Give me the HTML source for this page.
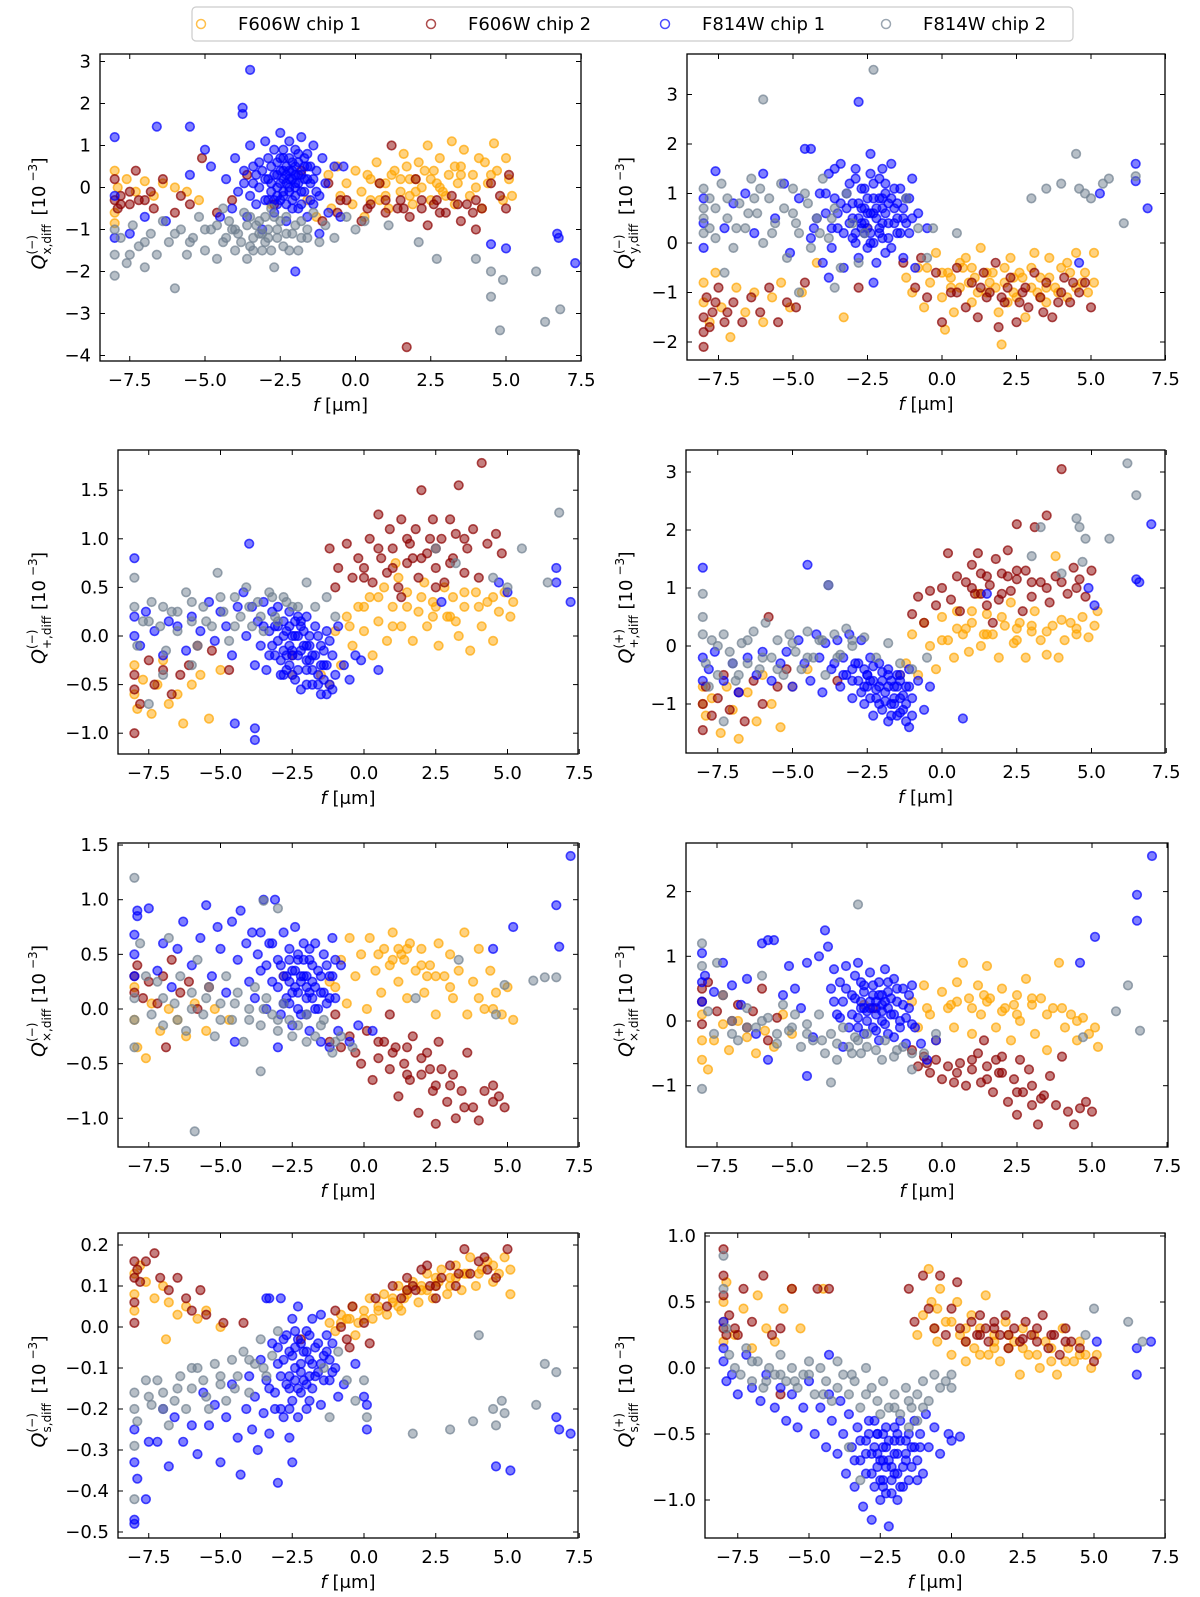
<!DOCTYPE html>
<html><head><meta charset="utf-8"><title>Q diff scatter panels</title>
<style>
html,body{margin:0;padding:0;background:#fff;}
svg{display:block;font-family:"DejaVu Sans","Liberation Sans",sans-serif;}
</style></head>
<body>
<svg id="fig" width="1200" height="1597" viewBox="0 0 1200 1597" xmlns="http://www.w3.org/2000/svg">
<g>
<rect x="192" y="7" width="881" height="34" rx="4" fill="#fff" stroke="#cccccc" stroke-width="1.2"/>
<g><circle cx="201" cy="24" r="4.5" fill="none" stroke="#FFA500" stroke-opacity="0.7" stroke-width="1.5"/><text x="238" y="30" font-size="18">F606W chip 1</text></g>
<g><circle cx="431" cy="24" r="4.5" fill="none" stroke="#8B0000" stroke-opacity="0.7" stroke-width="1.5"/><text x="468" y="30" font-size="18">F606W chip 2</text></g>
<g><circle cx="665" cy="24" r="4.5" fill="none" stroke="#0000FF" stroke-opacity="0.7" stroke-width="1.5"/><text x="702" y="30" font-size="18">F814W chip 1</text></g>
<g><circle cx="886" cy="24" r="4.5" fill="none" stroke="#708090" stroke-opacity="0.7" stroke-width="1.5"/><text x="923" y="30" font-size="18">F814W chip 2</text></g>
</g>
</svg>
<script>
// ---- data: flat [f, Q] pairs per panel per series ----
const seriesNames = ["F606W chip 1","F606W chip 2","F814W chip 1","F814W chip 2"];
const xTickValues = [-7.5,-5,-2.5,0,2.5,5,7.5];

const p1o=[-8,0.4,-8,-0.6,-8,-0.85,-7.9,0,-7.6,0.2,-7.3,-0.1,-7,0.15,-6.7,-0.2,-6.4,0.1,-6,0,-5.6,-0.1,-5.2,-0.3,-0.9,0.3,-0.8,-0.5,-0.6,0.5,-0.5,-0.2,-0.3,0.1,-0.1,-0.4,0,0.4,0.2,-0.1,0.3,-0.7,0.5,0.2,0.7,0.6,0.8,-0.3,1,0.1,1.1,-0.5,1.3,0.4,1.5,-0.1,1.6,0.8,1.8,0.2,1.9,-0.4,2.1,0.6,2.2,0,2.4,1,2.5,-0.3,2.6,0.4,2.8,0.7,2.9,-0.1,3.1,0.3,3.2,1.1,3.3,-0.4,3.5,0.5,3.6,0.9,3.8,-0.2,3.9,0.3,4.1,0.7,4.2,-0.5,4.4,0.1,4.6,1.05,4.7,0.4,4.9,-0.3,5,0.7,5.1,0.2,5.2,-0.2,1.2,0.3,2,0.2,2.7,0.1,3.4,0.1,0.4,0.3,1.7,0.5,-2.8,-0.4,-1.3,-0.7,-1.6,-0.3];
const p1oB=[0.5,-0.3,1,-0.2,1.5,0.2,2,-0.1,2.5,0.2,3,-0.2,3.5,0.3,4,0,4.5,0.3,2.3,0.4,2.8,0,1.8,-0.2,0.8,0.1,3.3,0.5,4.3,0.6];
const p1r=[-8,-0.3,-8,0.2,-7.9,-0.5,-7.8,-0.2,-7.5,-0.4,-7.3,0.4,-7,-0.3,-6.7,-0.5,-6.4,0.2,-6,-0.6,-5.8,-0.2,-5.5,-0.4,-5.1,0.7,-4.6,-0.6,-4.1,-0.3,-3.6,0.3,-1.8,0.4,-1.1,-0.8,-0.9,0.1,-0.6,-0.6,-0.3,-0.3,0.2,-0.8,0.5,-0.4,0.8,0.1,1,-0.6,1.2,1,1.5,-0.3,1.8,-0.7,2,0.2,2.2,-0.5,2.4,-0.9,2.7,-0.3,3,-0.6,3.2,-0.2,3.5,-0.8,3.7,-0.4,4,-1,4.2,-0.5,4.5,0.1,4.8,-0.2,5,-0.5,5.1,0.3,1.7,-3.8,1.4,-0.5,2.6,-0.4,3.9,-0.6,-2.7,-0.4];
const p1rB=[1,-0.3,1.6,-0.5,2.2,-0.3,2.8,-0.6,3.4,-0.4,4,-0.3,0.4,-0.5,-0.5,-0.3,-7.8,-0.4,-7.5,-0.1,-7.2,-0.3,-6.8,-0.1];
const p1b=[-4.3,0.2,-4.1,-0.5,-4,0.7,-3.9,-0.1,-3.7,0.4,-3.6,-0.7,-3.5,1,-3.4,0.1,-3.3,-0.4,-3.2,0.6,-3.1,-1,-3,0.2,-3,1.1,-2.9,-0.3,-2.8,0.5,-2.7,0.9,-2.7,-0.6,-2.6,0,-2.5,0.4,-2.5,1.3,-2.4,-0.2,-2.4,0.7,-2.3,0.1,-2.3,-0.8,-2.2,0.4,-2.2,1.1,-2.1,-0.3,-2.1,0.6,-2,0,-2,0.9,-1.9,-0.5,-1.9,0.3,-1.8,1.2,-1.8,-0.1,-1.7,0.5,-1.6,-0.7,-1.6,0.8,-1.5,0.1,-1.4,-0.4,-1.4,1,-1.3,0.4,-1.2,-0.2,-1.1,0.7,-1,0.1,-0.9,-0.6,-0.7,0.5,-2.6,0.3,-2.4,0.2,-2.2,-0.1,-2,0.3,-2.5,-0.3,-2.8,0.1,-1.9,0.6,-2.3,0.5,-2.1,0.2,-2.6,-0.4,-1.7,0.2,-3.4,0.5,-4.5,-0.7,-5,0.9,-5.5,1.45,-6.6,1.45,-8,1.2,-8,-0.2,-8,-1.2,-7.5,-1.1,-7,-0.7,-6.3,-0.8,-5.5,0.3,-4.8,0.5,-3.75,1.9,-3.75,1.75,-3.5,2.8,-2,-2,6.7,-1.1,6.75,-1.2,7.3,-1.8,5,-1.45,4.5,-1.35,-0.4,0.5,-1.2,-1.1,-0.5,-0.7];
const p1bB=[-3.2,0,-3.1,0.4,-3,-0.3,-2.9,0.7,-2.8,-0.1,-2.7,0.3,-2.6,0.6,-2.6,-0.2,-2.5,0.1,-2.4,0.9,-2.4,0.4,-2.3,-0.4,-2.3,0.3,-2.2,0.7,-2.2,0,-2.1,0.4,-2.1,-0.5,-2,0.5,-2,-0.2,-1.9,0.1,-1.9,0.8,-1.8,0.3,-1.8,-0.4,-1.7,0.7,-1.7,-0.1,-1.6,0.2,-1.5,0.5,-1.5,-0.3,-1.4,0.2,-1.3,-0.1,-2.7,-0.3,-2.9,0.2,-3.3,0.3,-3.5,-0.2,-3.7,0.1,-2.5,0.7,-2,0.1,-2.4,-0.1,-2.2,0.2,-1.6,0.5];
const p1g=[-8,-1,-8,-1.6,-8,-2.1,-7.8,-1.2,-7.6,-1.8,-7.4,-0.9,-7.2,-1.4,-7,-1.9,-6.8,-1.1,-6.6,-1.6,-6.4,-0.8,-6.2,-1.3,-6,-2.4,-5.8,-1,-5.6,-1.6,-5.4,-1.2,-5.2,-0.7,-5,-1.5,-4.8,-1,-4.6,-1.7,-4.4,-1.3,-4.2,-0.8,-4,-1.5,-3.9,-1.1,-3.7,-0.6,-3.6,-1.7,-3.4,-1.2,-3.3,-0.9,-3.1,-1.5,-3,-0.7,-2.9,-1.2,-2.7,-1.9,-2.6,-1,-2.4,-1.4,-2.3,-0.7,-2.1,-1.1,-1.9,-1.5,-1.8,-0.8,-1.6,-1.2,-1.4,-0.6,-1.2,-1.3,-1,-0.9,-0.7,-1.2,-0.3,-0.7,0,-1,0.3,-0.8,1.1,-0.9,2.1,-1.3,2.7,-1.7,4,-1.7,4.5,-2,4.5,-2.6,4.8,-3.4,4.9,-2.2,6,-2,6.3,-3.2,6.8,-2.9,-4.1,-1,-3.5,-1.4,-2.8,-0.5,-3.2,-1.1,-4.4,-0.5];
const p1gB=[-4,-1,-3.8,-1.3,-3.6,-0.9,-3.4,-1.5,-3.2,-0.8,-3,-1.3,-2.9,-1,-2.8,-1.5,-2.6,-1.2,-2.5,-0.8,-2.3,-1.1,-2.2,-1.5,-2,-0.9,-1.8,-1.2,-1.6,-1,-3.5,-0.7,-3.1,-1.1,-2.7,-0.7,-4.3,-1.2,-4.6,-0.9,-5,-1,-5.5,-1.3,-6,-1.1,-7,-1.3,-7.5,-1.6];

const p2o=[-8,-1.2,-8,-0.8,-7.8,-1.6,-7.6,-0.6,-7.4,-1.3,-7.1,-1.9,-6.9,-0.9,-6.6,-1.4,-6.3,-1,-6,-1.6,-5.7,-1.1,-5.4,-0.8,-5.1,-1.3,-4.7,-1,-4.2,-0.4,-3.3,-1.5,-1.2,-0.7,-1,-1,-0.8,-0.5,-0.6,-1.3,-0.4,-0.8,-0.2,-0.2,0,-1.1,0.1,-1.75,0.2,-0.6,0.4,-1.4,0.6,-0.9,0.8,-0.3,1,-1.2,1.1,-0.7,1.3,-0.1,1.5,-1,1.7,-0.6,1.9,-1.4,2,-2.05,2.1,-0.8,2.3,-0.3,2.5,-1.1,2.6,-0.6,2.8,-1.5,3,-0.9,3.1,-0.2,3.3,-0.7,3.5,-1.2,3.6,-0.3,3.8,-0.9,4,-0.5,4.2,-1.1,4.3,-0.6,4.5,-0.2,4.7,-0.8,4.9,-1,5.1,-0.8,5.1,-0.2,0.7,-0.5,1.6,-0.8,2.4,-0.7,3.2,-1,0.3,-0.7,-2.5,0.3];
const p2oB=[0,-0.6,0.3,-0.9,0.6,-0.4,0.9,-0.8,1.2,-1,1.5,-0.6,1.8,-0.9,2.1,-0.5,2.4,-1,2.7,-0.7,3,-0.5,3.3,-1.1,3.6,-0.7,3.9,-1,4.2,-0.4,4.5,-0.9,-0.5,-0.5,1,-0.5,2.2,-1.2,3.5,-0.9,4.8,-0.6];
const p2r=[-8,-1.5,-8,-1.8,-8,-2.1,-7.9,-1.1,-7.7,-1.4,-7.5,-0.9,-7.3,-1.6,-7,-1.2,-6.7,-1.6,-6.4,-1.1,-6.1,-1.4,-5.8,-0.9,-5.5,-1.6,-5.2,-1.2,-4.9,-1.3,-4.6,-0.8,-2.8,-0.9,-1.3,-0.4,-0.9,-0.9,-0.7,-0.3,-0.5,-1.1,-0.2,-0.6,0,-1.6,0.3,-1,0.5,-0.5,0.8,-1.3,1,-0.8,1.2,-1.5,1.4,-0.6,1.6,-1,1.8,-0.4,1.9,-1.7,2.1,-1.2,2.3,-0.7,2.5,-1.6,2.7,-1,2.9,-1.3,3.1,-0.6,3.3,-1.1,3.5,-0.8,3.7,-1.5,3.9,-1.2,4.1,-0.7,4.3,-1.2,4.6,-1,4.8,-0.8,5,-1.3,1.5,-1.1,2.2,-0.9,2.6,-1.2];
const p2rB=[0.5,-1,1.3,-0.9,2,-1.1,2.8,-0.9,3.4,-1.4,4,-1,4.4,-0.8,-7.8,-1.7,-7.6,-1.2,-7.2,-1.4];
const p2b=[-8,0.9,-8,0.4,-8,-0.1,-7.6,1.45,-7.3,0.3,-7,0.8,-6.6,1,-6.3,0.2,-6,1.4,-5.6,0.5,-5.3,1.2,-5.1,-0.2,-4.8,0.9,-4.6,1.9,-4.4,1.9,-4.3,0.3,-4.1,1,-4,-0.4,-3.9,0.6,-3.8,1.4,-3.7,-0.1,-3.6,0.9,-3.5,0.3,-3.4,1.6,-3.3,-0.5,-3.2,0.7,-3.1,1.2,-3,0.1,-3,0.5,-2.9,1.5,-2.8,-0.3,-2.8,0.8,-2.7,0.3,-2.6,1.1,-2.5,-0.1,-2.5,0.6,-2.4,1.8,-2.4,0.2,-2.3,0.9,-2.2,-0.4,-2.2,0.5,-2.1,1.3,-2,0.1,-2,0.7,-1.9,-0.2,-1.9,1,-1.8,0.4,-1.7,1.6,-1.7,-0.1,-1.6,0.7,-1.5,0.2,-1.4,1.1,-1.3,-0.3,-1.3,0.5,-1.2,0.9,-1.1,0.2,-1,1.3,-0.9,-0.5,-0.8,0.6,-0.5,0.3,-2.6,0.4,-2.3,0.6,-2.1,0.3,-2,0.9,-2.4,0,-1.8,0.8,-2.7,0.7,-2.9,0.2,-1.5,0.5,-3.6,1.5,-2.8,2.85,6.5,1.6,6.5,1.25,6.9,0.7,5.3,1,4.6,-0.4,-2.3,-0.8,-3.8,-0.7];
const p2bB=[-3.5,0.6,-3.3,0.2,-3.2,1,-3.1,0.4,-3,0.8,-2.9,0,-2.8,0.5,-2.7,1.1,-2.6,0.2,-2.5,0.9,-2.5,0.3,-2.4,0.6,-2.3,0,-2.3,1.2,-2.2,0.7,-2.1,0.2,-2.1,0.9,-2,0.4,-1.9,0.6,-1.9,1.2,-1.8,0.1,-1.7,0.9,-1.6,0.4,-1.5,0.8,-1.4,0.2,-1.3,0.7,-1.2,0.4,-1.1,0.9,-2.7,0.4,-2.4,1.4,-2.6,0.7,-3.7,0.3,-3.9,1,-4.2,0.5,-4.4,0.1,-2,1.5,-1.6,1.1,-1,0.5,-2.9,1.3,-3.4,0.8];
const p2g=[-8,1.1,-8,0.7,-8,0.2,-7.8,0.9,-7.6,0.1,-7.4,1.2,-7.2,0.5,-7,-0.1,-6.8,0.8,-6.6,0.3,-6.4,1.3,-6.2,0.6,-6,0,-5.8,0.9,-5.6,0.4,-5.4,1.2,-5.2,-0.3,-5,0.6,-4.8,0.2,-4.6,1,-4.4,-0.1,-4.2,0.5,-4,1.3,-3.8,0.1,-3.6,0.7,-3.4,-0.5,-3.2,1,-3,0.4,-2.8,-0.4,-2.6,0.2,-1.2,0.9,-0.8,0.3,-0.5,-0.3,0.5,0.2,-7.3,-0.6,-6,2.9,-2.3,3.5,3,0.9,3.5,1.1,4,1.2,4.5,1.8,4.6,1.1,4.8,1,5,0.9,5.4,1.2,5.6,1.3,6.1,0.4,6.5,1.35,-4.8,-1,-3.6,-0.9,-0.3,0.3];
const p2gB=[-8,0.5,-7.6,0.7,-7.2,0.9,-6.9,0.3,-6.5,0.6,-6.1,1.1,-5.7,0.2,-5.3,0.7,-4.9,0.4,-4.5,0.8,-4.1,0.2,-3.7,0.5,-7.8,0.3,-6.3,0.9,-5,1.1];

const p3o=[-8,-0.3,-8,-0.6,-7.9,-0.75,-7.7,-0.45,-7.4,-0.8,-7.2,-0.5,-7,-0.25,-6.8,-0.7,-6.5,-0.6,-6.3,-0.9,-6,-0.5,-5.7,-0.4,-5.4,-0.85,-5,-0.35,-1.2,-0.5,-1,0.05,-0.8,-0.3,-0.6,0.2,-0.4,-0.1,-0.2,0.3,0,0.05,0.2,0.4,0.3,-0.2,0.5,0.15,0.7,0.5,0.8,-0.05,1,0.3,1.2,0.6,1.3,0.1,1.5,0.45,1.7,-0.05,1.9,0.25,2.1,0.55,2.2,0.1,2.4,0.35,2.6,-0.1,2.8,0.5,2.9,0.2,3.1,0.4,3.3,0,3.5,0.3,3.7,-0.15,3.9,0.45,4.1,0.1,4.3,0.35,4.5,-0.05,4.7,0.25,4.9,0.45,5.1,0.2,5.2,0.35,1.1,0.75,2.4,0.2,3.2,0.15,-2.5,-0.4,-1.5,-0.4];
const p3oB=[0.5,0.4,1,0.1,1.5,0.3,2,0.4,2.5,0.3,3,0.2,3.5,0.45,4,0.3,4.5,0.4,0,0.3,-0.5,0.1];
const p3r=[-8,-0.4,-8,-0.55,-8,-1,-7.8,-0.7,-7.5,-0.25,-7.3,-0.5,-7,-0.35,-6.7,-0.6,-6.4,-0.4,-6.1,-0.3,-5.8,-0.1,-5.3,-0.15,-4.7,-0.35,-2.5,-0.2,-1.2,0.9,-1,0.5,-0.9,0.7,-0.6,0.95,-0.4,0.6,-0.2,0.8,0,0.7,0.2,1,0.3,0.55,0.5,1.25,0.6,0.8,0.8,0.65,0.9,1.1,1,0.9,1.2,0.5,1.3,1.2,1.5,0.75,1.6,0.95,1.8,1.1,1.9,0.6,2,1.5,2.2,0.85,2.4,1.2,2.5,0.7,2.7,1,2.8,0.55,3,1.2,3.1,0.8,3.2,1.05,3.3,1.55,3.5,0.65,3.6,0.9,3.8,1.1,4,0.6,4.1,1.78,4.3,0.95,4.6,1.05,4.8,0.85,1.3,0.4,2.5,0.5];
const p3rB=[0.5,0.9,1,0.7,1.5,1,2,0.8,2.5,0.9,3,0.75,3.5,1,1.7,0.8,2.3,1,0,0.6];
const p3b=[-8,0.8,-8,0.2,-8,0,-7.8,-0.1,-7.6,0.25,-7.3,0.05,-7,-0.2,-6.8,0.15,-6.5,0.1,-6.2,-0.15,-6,0.2,-5.7,0.05,-5.4,0.35,-5.2,-0.05,-5,0.25,-4.8,0.1,-4.6,-0.2,-4.4,0.3,-4.2,0.45,-4.1,0,-4,0.95,-3.9,0.3,-3.8,-0.3,-3.7,0.15,-3.6,-0.1,-3.5,0.35,-3.4,-0.35,-3.3,0.05,-3.2,0.25,-3.1,-0.2,-3,-0.05,-3,0.3,-2.9,-0.4,-2.8,0.15,-2.8,-0.15,-2.7,0.05,-2.6,-0.3,-2.6,0.25,-2.5,0,-2.4,-0.45,-2.4,0.15,-2.3,-0.2,-2.2,0.1,-2.2,-0.55,-2.1,-0.1,-2,0.2,-2,-0.35,-1.9,0,-1.8,-0.5,-1.8,-0.2,-1.7,0.1,-1.6,-0.4,-1.5,-0.6,-1.5,-0.1,-1.4,-0.3,-1.3,0.05,-1.2,-0.5,-1.1,-0.2,-1,-0.4,-0.9,0.1,-0.7,-0.3,-0.5,-0.45,-0.3,-0.2,-0.1,-0.25,0.5,-0.35,-2.5,-0.15,-2.3,0,-2,-0.1,-2.7,-0.2,-1.9,-0.25,-3.1,0.1,-4.5,-0.9,-3.8,-0.95,-3.8,-1.07,6.7,0.55,6.7,0.7,7.2,0.35,5,0.45,4.7,0.55,2.7,0.35];
const p3bB=[-3.2,-0.1,-3,0.1,-2.9,-0.25,-2.8,0,-2.7,-0.35,-2.6,0.1,-2.5,-0.2,-2.4,0,-2.3,-0.35,-2.3,0.2,-2.2,-0.15,-2.1,0.05,-2,-0.5,-2,-0.25,-1.9,-0.1,-1.8,-0.35,-1.7,-0.2,-1.6,-0.5,-1.6,0,-1.5,-0.3,-1.4,-0.15,-1.4,-0.45,-1.3,-0.3,-1.2,-0.05,-2.5,-0.4,-2.8,-0.4,-3.3,-0.2,-3.5,0.1,-1.1,-0.55,-1.3,-0.6,-2.2,0.15,-2.6,-0.1];
const p3g=[-8,0.6,-8,0.3,-7.9,-0.1,-7.7,0.15,-7.4,0.35,-7.1,0.1,-6.9,-0.15,-6.7,0.25,-6.5,0.05,-6.2,0.45,-6,0.15,-5.8,-0.1,-5.6,0.3,-5.3,0.1,-5.1,0.65,-4.9,0.25,-4.7,-0.05,-4.5,0.4,-4.3,0.2,-4.1,0.5,-3.9,0.1,-3.7,0.35,-3.5,0.05,-3.3,0.45,-3.1,0.2,-2.8,0.4,-2.5,0.3,-2,0.55,-1.7,0.3,-1.3,0.4,-1,0.2,-7.5,-0.7,-7,-0.4,-6,-0.3,3.2,0.75,4.5,0.6,5,0.5,5.5,0.9,6.4,0.55,6.8,1.27,2.5,0.9];
const p3gB=[-4.5,0.1,-4,0.3,-3.6,0.2,-3.2,0.4,-3,0.15,-2.7,0.35,-2.3,0.3,-5,0.4,-5.5,0.15,-6,0.35,-6.5,0.25,-7,0.3,-7.5,0.15];

const p4o=[-8,-0.7,-8,-1,-7.9,-1.2,-7.7,-0.9,-7.4,-1.5,-7.2,-0.7,-7,-1.1,-6.8,-1.6,-6.5,-0.8,-6.2,-1.3,-6,-0.5,-5.7,-1,-5.4,-1.4,-5,-0.7,-4.5,-0.4,-1.2,-0.3,-1,0.2,-0.8,-0.5,-0.6,0.4,-0.4,0,-0.2,-0.4,0,0.5,0.2,0.1,0.4,-0.2,0.5,0.6,0.7,0.2,0.9,-0.1,1,0.4,1.2,0.9,1.3,0,1.5,0.55,1.7,0.2,1.9,-0.2,2.1,0.35,2.3,0.75,2.4,0.05,2.6,0.4,2.8,-0.2,3,0.25,3.1,0.6,3.3,0.1,3.5,-0.15,3.7,0.35,3.8,1.55,3.9,-0.2,4.1,0.1,4.3,0.4,4.5,0.2,4.7,0.5,4.9,0.15,5.1,0.35,5.2,0.6,1.4,0.2,2.5,0.3,0.8,0.3,-1.4,-0.5];
const p4oB=[0.5,0.3,1,0.6,1.5,0.2,2,0.5,2.5,0.1,3,0.35,3.5,0.25,4,0.45,4.5,0.3,0,0.1];
const p4r=[-8,-1.45,-8,-1,-7.9,-0.7,-7.7,-1.2,-7.5,-0.9,-7.3,-0.5,-7.1,-1.1,-6.8,-0.8,-6.6,-1.3,-6.3,-0.6,-6,-1,-5.8,0.5,-5.5,-0.7,-5.2,-0.4,-3.5,-0.6,-1,0.55,-0.8,0.85,-0.6,0.4,-0.4,0.95,-0.2,0.7,0,1,0.2,1.6,0.3,0.8,0.5,1.2,0.6,0.6,0.8,1.1,1,1.4,1.1,0.9,1.3,1.25,1.5,0.7,1.6,1.05,1.8,1.5,1.9,0.8,2,1.25,2.2,1.65,2.3,0.95,2.5,1.15,2.7,0.6,2.8,1.3,3,0.85,3.1,2.05,3.3,1.1,3.5,2.25,3.6,0.75,3.8,1.2,4,3.05,4.2,0.9,4.4,1.35,4.6,1.15,4.8,0.85,5,1.3,1.2,1.6,2.5,2.1,1.7,0.4];
const p4rB=[1,1,1.5,1.2,2,0.9,2.5,1.3,3,1.1,3.5,1,4,1.1,4.5,1,2.2,1.2,1.3,0.9];
const p4b=[-8,1.35,-8,-0.2,-8,-0.6,-7.8,-0.4,-7.6,-0.1,-7.3,-0.6,-7,-0.3,-6.8,-0.8,-6.5,-0.2,-6.2,-0.5,-6,-0.1,-5.7,-0.6,-5.4,-0.3,-5.2,-0.1,-5,-0.7,-4.8,0.1,-4.6,-0.3,-4.5,1.4,-4.4,-0.6,-4.2,0.2,-4.1,-0.2,-4,-0.8,-3.9,0.05,-3.8,1.05,-3.7,-0.4,-3.5,0.1,-3.4,-0.7,-3.3,-0.2,-3.2,-0.5,-3.1,0.2,-3,-0.9,-2.9,-0.3,-2.8,-0.6,-2.7,0.1,-2.6,-1,-2.6,-0.4,-2.5,-0.7,-2.4,-0.2,-2.3,-1.2,-2.3,-0.6,-2.2,-0.9,-2.1,-0.3,-2,-1.1,-2,-0.6,-1.9,-0.8,-1.8,-1.3,-1.8,-0.4,-1.7,-1,-1.6,-0.7,-1.5,-1.2,-1.5,-0.5,-1.4,-0.9,-1.3,-1.1,-1.2,-0.7,-1.1,-1.4,-1.1,-0.4,-1,-0.9,-0.8,-0.6,-0.6,-1.1,-0.4,-0.7,-2.5,-0.5,-2.1,-0.7,-1.7,-0.6,-3,-0.4,-1.4,-0.6,0.7,-1.25,6.5,1.15,6.6,1.1,7,2.1,5.1,0.7,4.9,1,1.5,0.9];
const p4bB=[-3,-0.6,-2.8,-0.3,-2.7,-0.8,-2.5,-0.5,-2.4,-0.9,-2.3,-0.35,-2.2,-0.75,-2.1,-1,-2,-0.45,-1.9,-0.95,-1.8,-0.7,-1.7,-1.2,-1.6,-0.9,-1.5,-0.7,-1.4,-1.15,-1.3,-0.85,-1.2,-1.3,-1.2,-1,-1.1,-0.7,-1,-1.2,-1.6,-1,-2.6,-0.7,-3.3,-0.5,-3.6,-0.3,-1.8,-0.5,-2.4,-0.6,-1.4,-0.5];
const p4g=[-8,0.9,-8,0.5,-8,0.2,-7.9,-0.3,-7.7,0.1,-7.5,-0.5,-7.3,0.2,-7.1,-0.1,-6.9,-0.6,-6.7,0.05,-6.5,-0.3,-6.3,0.25,-6.1,-0.4,-5.9,0.4,-5.7,-0.2,-5.5,0.1,-5.3,-0.5,-5.1,0.2,-4.9,-0.1,-4.7,-0.4,-4.5,0.25,-4.3,-0.2,-4.1,0.1,-3.9,-0.5,-3.6,0.2,-3.4,-0.15,-3.2,0.3,-3,0,-2.6,0.15,-2.2,-0.2,-1.8,0.05,-1.4,-0.3,-1,-0.4,-0.5,-0.2,-7.3,-1.3,-3.8,1.05,3,1.55,3.3,2.05,4.5,2.2,4.6,2.05,4.8,1.85,4.7,1.45,4,1.25,5.6,1.85,6.2,3.15,6.5,2.6];
const p4gB=[-7.5,0,-7,-0.3,-6.5,0.1,-6,-0.2,-5.5,-0.4,-5,0.05,-4.5,-0.2,-4,0.1,-3.5,-0.2,-3,0.1,-6.8,-0.5,-7.8,-0.7];

const p5o=[-8,0.2,-8,-0.1,-7.9,-0.35,-7.6,-0.45,-7.4,0.05,-7.1,-0.2,-6.8,0,-6.5,-0.1,-6.2,-0.25,-5.9,0.05,-5.5,-0.2,-5.2,0,-4.7,-0.1,-1,0.2,-0.8,0.45,-0.6,0.05,-0.5,0.65,-0.3,0.3,-0.1,0.5,0.1,0,0.2,0.65,0.4,0.35,0.6,0.15,0.7,0.55,0.9,0.4,1,0.7,1.2,0.25,1.3,0.5,1.5,0.1,1.6,0.6,1.8,0.35,2,0.55,2.1,0.15,2.3,0.4,2.5,-0.05,2.6,0.6,2.8,0.3,3,0.5,3.1,0.1,3.3,0.35,3.5,0.7,3.6,-0.05,3.8,0.25,4,0.55,4.2,0,4.4,0.35,4.6,0.15,4.8,-0.05,5,0.2,5.2,-0.1,1.4,0.45,2.2,0.3,-1.2,0.25,-2.8,0.3];
const p5oB=[0.5,0.5,1,0.45,1.5,0.55,2,0.4,2.5,0.3,3,0.2,4,0.1,4.5,0,1.2,0.55];
const p5r=[-8,0.3,-8,0.15,-7.9,0.4,-7.7,0.1,-7.5,0.25,-7.2,0.05,-7,0.3,-6.7,0.45,-6.4,0.15,-6.1,0.25,-5.8,0,-5.4,0.2,-6.9,-0.35,-1.2,-0.3,-1,-0.05,-0.8,-0.35,-0.5,-0.25,-0.3,-0.4,-0.1,-0.5,0.1,-0.2,0.3,-0.65,0.5,-0.45,0.7,-0.3,0.9,-0.55,1.1,-0.35,1.2,-0.8,1.4,-0.5,1.6,-0.65,1.7,-0.25,1.9,-0.95,2,-0.6,2.2,-0.4,2.4,-0.75,2.5,-1.05,2.7,-0.55,2.9,-0.85,3.1,-0.6,3.2,-1,3.4,-0.75,3.6,-0.4,3.8,-0.9,4,-1.02,4.2,-0.75,4.5,-0.85,4.7,-0.8,4.9,-0.9,1.5,-0.35,2.6,-0.3,0.9,-0.05];
const p5rB=[1,-0.4,1.5,-0.6,2,-0.45,2.5,-0.7,3,-0.7,3.5,-0.9,4.5,-0.7,2.3,-0.55,0.5,-0.3];
const p5b=[-8,0.68,-8,0.5,-8,0.3,-7.9,0.85,-7.9,0.9,-7.5,0.92,-7.2,0.35,-7,0.6,-6.7,0.2,-6.5,0.55,-6.3,0.8,-6,0.4,-5.7,0.65,-5.5,0.95,-5.3,0.3,-5.1,0.75,-5,0.55,-4.8,0.15,-4.6,0.8,-4.4,0.45,-4.3,0.9,-4.1,0.6,-4,0.25,-3.9,0.7,-3.8,0.1,-3.7,0.5,-3.6,0.35,-3.5,1,-3.4,0,-3.3,0.6,-3.2,0.25,-3.1,1,-3,0.45,-2.9,-0.05,-2.8,0.7,-2.8,0.3,-2.7,0.1,-2.6,0.55,-2.5,-0.15,-2.5,0.35,-2.4,0.75,-2.3,0.15,-2.3,0.45,-2.2,-0.05,-2.1,0.3,-2.1,0.6,-2,0.1,-1.9,0.45,-1.9,-0.2,-1.8,0.25,-1.7,0.6,-1.7,0,-1.6,0.35,-1.5,-0.3,-1.5,0.15,-1.4,0.5,-1.3,0.05,-1.2,0.3,-1.2,-0.35,-1.1,0.65,-1,0.1,-0.9,-0.2,-0.8,0.4,-0.5,-0.3,-0.2,-0.15,0.3,-0.2,-2.4,0.2,-2.2,0.3,-2,0.2,-2.6,0.25,-1.8,0.1,-3,-0.35,-4.5,-0.3,4.5,0.55,5.2,0.75,6.7,0.95,6.8,0.57,7.2,1.4];
const p5bB=[-3,0.2,-2.9,0.4,-2.8,0.05,-2.7,0.3,-2.6,0.45,-2.5,0.15,-2.4,0.35,-2.3,0,-2.2,0.25,-2.1,0.45,-2,-0.05,-2,0.3,-1.9,0.15,-1.8,0.4,-1.7,0.2,-1.6,0,-1.5,0.3,-1.4,0.15,-1.3,0.4,-1.2,0.1,-1.1,0.3,-2.6,0.05,-2.3,0.5,-1.9,0.55,-3.2,0.6,-3.4,0.4,-3.6,0.7,-1,0.45];
const p5g=[-8,1.2,-8,0.1,-8,-0.1,-7.8,0.6,-7.6,0.3,-7.4,-0.05,-7.2,0.25,-7,-0.15,-6.8,0.65,-6.6,0.05,-6.4,0.3,-6.2,-0.2,-6,0.15,-5.8,0.45,-5.6,-0.05,-5.4,0.2,-5.2,-0.25,-5,0.05,-4.8,0.3,-4.6,-0.1,-4.4,0.15,-4.2,-0.3,-4,0,-3.8,0.2,-3.6,-0.15,-3.4,0.1,-3.2,-0.05,-3,-0.2,-2.8,0.05,-2.6,-0.1,-2.3,-0.15,-2,-0.05,-1.7,-0.25,-1.4,-0.1,-1.1,-0.4,-0.8,-0.25,-0.4,-0.35,-3.5,0.99,-3,0.92,-5.9,-1.12,-3.6,-0.57,-8,-0.35,5.9,0.26,6.3,0.29,6.7,0.29,4.9,0.22,4.6,-0.05,3.3,0.45,1.8,0.1];
const p5gB=[-4,-0.1,-3.5,0,-3,-0.1,-2.5,-0.25,-2,-0.3,-1.5,-0.15,-1,-0.3,-4.5,0.05,-5,-0.1,-5.5,0.1,-6,0,-6.5,-0.1,-7,0.1];

const p6o=[-8,-0.3,-8,-0.6,-8,0.1,-7.8,-0.75,-7.6,-0.3,-7.3,-0.05,-7.1,-0.45,-6.8,0,-6.5,-0.25,-6.2,-0.5,-5.9,-0.15,-5.6,-0.4,-5.3,0.1,-5,-0.2,-1,0.3,-0.8,-0.1,-0.6,0.55,-0.4,0.1,-0.2,-0.3,0,0.45,0.2,0.2,0.4,-0.1,0.5,0.6,0.7,0.9,0.9,0.35,1,-0.2,1.2,0.55,1.3,0.1,1.5,0.85,1.6,0.35,1.8,-0.1,2,0.5,2.1,0.2,2.3,-0.3,2.5,0.4,2.6,0,2.8,0.65,3,0.25,3.1,-0.2,3.3,0.35,3.5,-0.45,3.7,0.2,3.9,0.9,4.1,-0.1,4.3,0.1,4.5,-0.3,4.7,0.05,4.9,-0.2,5.1,-0.1,5.2,-0.4,0.3,0.25,1.4,0.4,2.4,0.25,-2.6,0.25];
const p6oB=[0.5,0.3,1,0.2,1.5,0.3,2,0.15,2.5,0.1,3,0.35,3.5,0.1,4,0.2,4.5,0,-0.5,0.2];
const p6r=[-8,0.5,-8,0.3,-8,-0.05,-7.8,0.6,-7.5,0.15,-7.3,0.4,-7,0,-6.8,0.25,-6.5,-0.1,-6.3,0.15,-6,0.5,-5.8,-0.3,-5.5,0.05,-1,-0.45,-0.8,-0.7,-0.6,-0.55,-0.4,-0.8,-0.2,-0.6,0,-0.9,0.2,-0.7,0.4,-0.95,0.6,-0.65,0.8,-1,1,-0.75,1.2,-0.5,1.3,-0.95,1.5,-0.7,1.7,-1.1,1.9,-0.8,2,-0.55,2.2,-1.25,2.4,-0.9,2.5,-1.45,2.7,-1.1,2.9,-0.75,3,-1.3,3.2,-1.6,3.4,-1.15,3.6,-0.85,3.8,-1.3,4,-0.55,4.2,-1.4,4.4,-1.6,4.6,-1.35,4.8,-1.25,5,-1.4,1.4,-0.3,2.6,-0.6,-2.3,0.2];
const p6rB=[0.5,-0.8,1,-0.6,1.5,-0.9,2,-0.8,2.5,-1.1,3,-1,3.3,-1.2,1.8,-0.6,-0.5,-0.65];
const p6b=[-8,1.05,-8,0.6,-8,0.3,-7.9,0.7,-7.6,0.45,-7.3,0.9,-7,0.55,-6.7,0.25,-6.5,0.65,-6.2,-0.2,-6,1.2,-5.8,1.25,-5.6,1.25,-5.3,0.4,-5.1,0.85,-4.9,0.5,-4.7,0.2,-4.5,0.9,-4.3,-0.25,-4.1,1,-3.9,1.4,-3.8,1.15,-3.7,0.5,-3.6,0.8,-3.5,0.1,-3.4,0.6,-3.3,0.3,-3.2,0.85,-3.1,-0.1,-3,0.4,-2.9,0.7,-2.8,0.05,-2.8,0.9,-2.7,0.3,-2.6,-0.2,-2.6,0.55,-2.5,0.15,-2.4,0.75,-2.3,-0.1,-2.3,0.4,-2.2,0.1,-2.1,0.6,-2.1,-0.3,-2,0.25,-1.9,0.8,-1.9,-0.05,-1.8,0.45,-1.7,0.1,-1.6,0.65,-1.6,-0.25,-1.5,0.3,-1.4,0,-1.3,0.5,-1.2,-0.35,-1.1,0.2,-1,0.55,-0.9,-0.1,-0.7,-0.35,-0.5,-0.6,-0.2,-0.3,-2.4,0.2,-2,0.4,-2.7,0.6,-2.2,0.3,-1.8,0.2,-3.3,-0.4,-4.5,-0.85,-5.8,-0.6,7,2.55,6.5,1.95,6.5,1.55,5.1,1.3,4.6,0.9];
const p6bB=[-3,0.1,-2.9,0.35,-2.8,-0.1,-2.7,0.2,-2.6,0.45,-2.5,0,-2.4,0.3,-2.3,0.55,-2.2,-0.15,-2.2,0.2,-2.1,0.4,-2,0,-1.9,0.3,-1.8,0.6,-1.8,-0.2,-1.7,0.35,-1.6,0.1,-1.5,0.5,-1.4,-0.1,-1.3,0.25,-1.2,0.05,-1.1,0.4,-2.6,0.2,-2,0.15,-3.2,0.5,-3.4,0.05,-3.6,0.3,-1,-0.05];
const p6g=[-8,1.2,-8,0.85,-8,-1.05,-7.8,0.15,-7.6,-0.2,-7.3,0.4,-7,0,-6.8,-0.3,-6.5,0.2,-6.2,-0.1,-6,0.7,-5.8,0.05,-5.5,-0.35,-5.3,0.25,-5.1,-0.15,-4.9,0.1,-4.7,-0.4,-4.5,-0.05,-4.3,-0.3,-4.1,0.1,-3.9,-0.5,-3.7,-0.2,-3.5,-0.6,-3.3,-0.1,-3.1,-0.4,-2.9,-0.25,-2.7,-0.5,-2.5,-0.2,-2.2,-0.45,-1.9,-0.3,-1.6,-0.55,-1.3,-0.4,-1,-0.75,-0.6,-0.5,-0.2,-0.2,-3.7,-0.95,-2.8,1.8,6.2,0.55,5.8,0.15,6.6,-0.15,4.7,-0.25,-7.5,0.9];
const p6gB=[-4,-0.3,-3.5,-0.35,-3,-0.5,-2.5,-0.4,-2,-0.6,-1.5,-0.45,-1,-0.5,-4.5,-0.2,-5,-0.1,-5.5,-0.2,-6,0,-6.5,-0.1,-7,-0.2,-2.8,-0.3];

const p7o=[-8,0.13,-8,0.08,-8,0.04,-7.8,0.15,-7.6,0.11,-7.3,0.07,-7,0.1,-6.8,0.06,-6.5,0.03,-6.2,0.05,-5.8,0.02,-5.5,0.04,-5,0,-6.9,-0.03,-1.2,0.01,-1,-0.01,-0.8,0.03,-0.6,0.02,-0.4,0.05,-0.2,0.01,0,0.04,0.2,0.07,0.3,0.02,0.5,0.05,0.7,0.08,0.8,0.03,1,0.06,1.2,0.1,1.3,0.04,1.5,0.08,1.7,0.11,1.9,0.06,2,0.09,2.2,0.13,2.4,0.07,2.5,0.1,2.7,0.14,2.9,0.08,3,0.12,3.2,0.15,3.4,0.09,3.6,0.13,3.7,0.17,3.9,0.1,4.1,0.14,4.3,0.16,4.5,0.11,4.7,0.13,4.9,0.17,5.1,0.14,5.1,0.08,-0.3,-0.02,1.4,0.07,2.6,0.11];
const p7oB=[-0.5,0.02,0,0.02,0.5,0.04,1,0.07,1.5,0.09,2,0.1,2.5,0.12,3,0.1,3.5,0.13,4,0.13,4.5,0.15,1.2,0.05,2.2,0.09,3.2,0.12,-0.8,0.01];
const p7r=[-8,0.16,-8,0.12,-8,0.06,-8,0.01,-7.9,0.14,-7.6,0.16,-7.3,0.18,-7.1,0.12,-6.8,0.09,-6.5,0.12,-6.2,0.07,-6,0.04,-5.7,0.09,-5.5,0.03,-4.9,0.01,-4.2,0.01,-2.2,-0.03,-1,0.04,-0.8,0,-0.6,-0.03,-0.4,0.05,0,0.01,0.2,-0.04,0.4,0.07,0.8,0.05,1,0.1,1.3,0.07,1.5,0.12,1.8,0.09,2,0.14,2.3,0.1,2.5,0.07,2.7,0.12,3,0.15,3.2,0.1,3.5,0.19,3.7,0.13,4,0.16,4.3,0.14,4.6,0.12,5,0.19,2.2,0.15,1.7,0.1,-0.5,-0.05];
const p7rB=[1.5,0.09,2.5,0.1,3.3,0.13,4.2,0.17,-7.8,0.11];
const p7b=[-8,-0.25,-8,-0.33,-8,-0.47,-8,-0.48,-7.9,-0.37,-7.6,-0.42,-7.5,-0.28,-7.2,-0.28,-7,-0.2,-6.8,-0.34,-6.6,-0.22,-6.3,-0.28,-6,-0.24,-5.8,-0.31,-5.6,-0.16,-5.4,-0.24,-5.2,-0.19,-5,-0.33,-4.8,-0.22,-4.6,-0.14,-4.4,-0.27,-4.3,-0.36,-4.1,-0.2,-4,-0.12,-3.9,-0.25,-3.8,-0.17,-3.7,-0.3,-3.6,-0.08,-3.5,-0.21,-3.4,-0.13,-3.3,-0.26,-3.2,-0.04,-3.1,-0.16,-3,-0.38,-3,-0.09,-2.9,0.07,-2.9,-0.2,-2.8,-0.03,-2.7,-0.14,-2.6,-0.27,-2.6,-0.06,-2.5,0.02,-2.5,-0.18,-2.4,-0.1,-2.3,-0.22,-2.3,0.05,-2.2,-0.04,-2.1,-0.13,-2,-0.01,-2,-0.2,-1.9,-0.08,-1.8,0.02,-1.8,-0.15,-1.7,-0.05,-1.6,-0.11,-1.5,0.03,-1.5,-0.19,-1.4,-0.07,-1.3,-0.02,-1.2,-0.13,-1.1,-0.04,-1,-0.1,-0.9,-0.17,-0.7,-0.14,-0.3,-0.09,0,-0.17,0.1,-0.19,0.1,-0.25,-2.4,-0.05,-2.2,-0.09,-2,-0.06,-2.6,-0.12,-1.9,-0.12,-2.3,-0.15,-3.4,0.07,-3.3,0.07,-2.5,-0.33,4.6,-0.34,5.1,-0.35,6.7,-0.22,6.8,-0.25,7.2,-0.26];
const p7bB=[-3,-0.05,-2.9,-0.12,-2.8,-0.08,-2.7,-0.02,-2.6,-0.15,-2.5,-0.07,-2.4,-0.13,-2.3,-0.03,-2.2,-0.11,-2.1,-0.06,-2,-0.14,-1.9,-0.02,-1.8,-0.09,-1.7,-0.12,-1.6,-0.04,-1.5,-0.09,-1.4,-0.13,-1.3,-0.06,-1.2,-0.08,-1.1,-0.11,-2.2,-0.16,-2.6,-0.2,-3.1,-0.2,-3.3,-0.15,-2.8,-0.22,-1.9,-0.18,-2.4,-0.01];
const p7g=[-8,-0.16,-8,-0.2,-8,-0.29,-8,-0.42,-7.9,-0.23,-7.6,-0.13,-7.4,-0.19,-7.2,-0.13,-7,-0.16,-6.8,-0.24,-6.6,-0.18,-6.4,-0.12,-6.2,-0.2,-6,-0.15,-5.8,-0.1,-5.6,-0.13,-5.4,-0.2,-5.2,-0.09,-5,-0.14,-4.8,-0.18,-4.6,-0.08,-4.4,-0.12,-4.2,-0.06,-4,-0.16,-3.8,-0.09,-3.6,-0.03,-3.4,-0.12,-3.2,-0.07,-3,-0.01,-1.4,-0.1,-0.9,-0.06,-0.6,-0.13,-0.3,-0.18,0,-0.13,-1.2,-0.22,0.1,-0.22,1.7,-0.26,3,-0.25,3.8,-0.23,4.5,-0.2,4.8,-0.18,4.9,-0.21,4.6,-0.24,6,-0.19,6.3,-0.09,6.7,-0.11,4,-0.02];
const p7gB=[-5,-0.12,-4.5,-0.15,-4,-0.08,-3.5,-0.1,-6.5,-0.15,-7,-0.2,-7.5,-0.17,-5.5,-0.17,-6,-0.1];

const p8o=[-8,0.5,-8,0.35,-8,0.2,-7.9,0.65,-7.6,0.25,-7.3,0.45,-7,0.15,-6.8,0.55,-6.5,0.3,-6.2,0.2,-5.9,0.45,-5.6,0.6,-5.3,0.3,-4.5,0.6,-1.2,0.25,-1,0.4,-0.8,0.75,-0.7,0.5,-0.5,0.2,-0.4,0.6,-0.2,0.35,0,0.1,0.2,0.5,0.3,0.25,0.5,0.05,0.7,0.4,0.8,0.15,1,0.3,1.2,0.55,1.3,0.1,1.5,0.25,1.7,0.05,1.9,0.35,2,0.15,2.2,0.2,2.4,-0.05,2.5,0.3,2.7,0.1,2.9,0.25,3.1,0,3.3,0.2,3.5,0.05,3.7,-0.05,3.9,0.3,4.1,0.15,4.3,0.05,4.5,0.2,4.7,0.1,4.9,0,5.1,0.1,0.5,0.3,1.5,0.2,-0.6,0.3];
const p8oB=[0.5,0.2,1,0.1,1.5,0.15,2,0.25,2.5,0.15,3,0.1,3.5,0.15,4,0.05,4.5,0.1,0,0.35,-0.5,0.45];
const p8r=[-8,0.9,-8,0.7,-8,0.55,-8,0.3,-7.9,0.25,-7.8,0.4,-7.6,0.3,-7.3,0.6,-7,0.35,-6.6,0.7,-6.3,0.25,-6,0.3,-5.6,0.6,-4.7,0.6,-4.3,0.6,-1.5,0.6,-1.3,0.35,-1,0.7,-0.8,0.45,-0.6,0.3,-0.4,0.7,-0.2,0.25,0,0.45,0.2,0.65,0.3,0.3,0.5,0.2,0.7,0.35,0.9,0.25,1,0.4,1.2,0.3,1.3,0.2,1.5,0.35,1.7,0.25,1.9,0.4,2,0.15,2.2,0.3,2.4,0.2,2.6,0.35,2.8,0.25,3,0.2,3.2,0.4,3.4,0.15,3.6,0.25,3.8,0.1,4,0.3,4.2,0.2,4.5,0.15,5,0.05,-6,-0.2];
const p8rB=[1,0.25,1.5,0.3,2,0.25,2.5,0.22,3,0.3,3.5,0.25,4,0.2,-7.5,0.25];
const p8b=[-8,0.35,-8,0.15,-8,0.05,-7.9,-0.1,-7.7,-0.05,-7.5,-0.2,-7.2,0.1,-7,-0.15,-6.7,-0.25,-6.5,-0.05,-6.2,-0.3,-6,-0.15,-5.8,-0.4,-5.6,-0.2,-5.4,-0.45,-5.2,-0.3,-5,-0.1,-4.8,-0.5,-4.6,-0.3,-4.4,-0.6,-4.3,0.1,-4.2,-0.4,-4,-0.65,-3.9,-0.25,-3.8,-0.5,-3.7,-0.8,-3.6,-0.35,-3.5,-0.6,-3.4,-0.9,-3.3,-0.45,-3.2,-0.7,-3.1,-1.05,-3,-0.55,-3,-0.8,-2.9,-0.4,-2.8,-0.65,-2.8,-1.15,-2.7,-0.9,-2.6,-0.5,-2.6,-0.75,-2.5,-1,-2.4,-0.6,-2.4,-0.85,-2.3,-0.45,-2.2,-0.7,-2.2,-1.2,-2.1,-0.95,-2,-0.55,-2,-0.8,-1.9,-0.65,-1.8,-0.9,-1.8,-0.4,-1.7,-0.75,-1.6,-0.55,-1.5,-0.85,-1.4,-0.6,-1.3,-0.4,-1.2,-0.7,-1.1,-0.5,-1,-0.8,-0.9,-0.35,-0.8,-0.6,-0.6,-0.45,-0.4,-0.65,-0.1,-0.5,0.3,-0.52,0,-0.55,-2.5,-0.7,-2.3,-0.6,-2.1,-0.75,-2.7,-0.6,-1.9,-0.5,-2.4,-0.9,-1.6,-0.7,-4.3,-0.2,5.1,0.2,6.5,0.15,7,0.2,6.5,-0.05];
const p8bB=[-3,-0.65,-2.9,-0.5,-2.8,-0.8,-2.7,-0.4,-2.6,-0.65,-2.5,-0.85,-2.4,-0.5,-2.3,-0.75,-2.2,-0.55,-2.1,-0.85,-2,-0.65,-1.9,-0.8,-1.8,-0.55,-1.7,-0.9,-1.6,-0.65,-1.5,-0.5,-1.4,-0.75,-1.3,-0.6,-1.2,-0.85,-2.3,-0.95,-1.9,-1,-2.6,-0.5,-3.2,-0.55,-3.4,-0.7,-1.1,-0.6,-2,-0.45,-2.4,-0.7];
const p8g=[-8,0.85,-8,0.6,-7.9,0.3,-7.8,0.1,-7.6,0,-7.4,-0.05,-7.2,0.15,-7,-0.1,-6.8,0.05,-6.6,-0.15,-6.4,0,-6.2,-0.05,-6,0.1,-5.8,-0.1,-5.6,0,-5.4,-0.15,-5.2,-0.05,-5,0.05,-4.8,-0.2,-4.6,0,-4.4,-0.1,-4.2,-0.25,-4,0.05,-3.8,-0.05,-3.6,-0.2,-3.4,-0.1,-3.2,-0.3,-3,0,-2.8,-0.15,-2.6,-0.25,-2.4,-0.1,-2.2,-0.3,-2,-0.2,-1.8,-0.35,-1.6,-0.15,-1.4,-0.3,-1.2,-0.2,-1,-0.1,-0.8,-0.25,-0.6,-0.05,-0.4,-0.15,-0.2,-0.1,0,-0.05,0,-0.15,-3.6,-0.6,-3.2,-0.85,6.2,0.35,6.7,0.2,5,0.45,4.7,0.25,-1.5,-0.45];
const p8gB=[-7,0.05,-6.5,-0.1,-6,-0.05,-5.5,-0.1,-5,-0.05,-4.5,-0.2,-4,-0.15,-3.5,-0.05,-3,-0.2,-2.5,-0.35,-2,-0.3,-1.5,-0.25,-1.2,-0.4,-1,-0.3];

const yTicks1=[-4,-3,-2,-1,0,1,2,3];
const yTicks2=[-2,-1,0,1,2,3];
const yTicks3=[-1,-0.5,0,0.5,1,1.5];
const yTicks4=[-1,0,1,2,3];
const yTicks5=[-1,-0.5,0,0.5,1,1.5];
const yTicks6=[-1,0,1,2];
const yTicks7=[-0.5,-0.4,-0.3,-0.2,-0.1,0,0.1,0.2];
const yTicks8=[-1,-0.5,0,0.5,1];

// ---- layout (pixels) ----
const panels=[
 {id:"qx-minus-top",L:100,R:581,T:54,B:361,x0:355.5,xs:30.1,y0:187.5,ys:42,yt:yTicks1,dec:0,sup:"(−)",sub:"x,diff",lx:38,data:[p1o.concat(p1oB),p1r.concat(p1rB),p1b.concat(p1bB),p1g.concat(p1gB)]},
 {id:"qy-minus",L:687,R:1165,T:54,B:360,x0:942,xs:29.8,y0:243,ys:49.5,yt:yTicks2,dec:0,sup:"(−)",sub:"y,diff",lx:625,data:[p2o.concat(p2oB),p2r.concat(p2rB),p2b.concat(p2bB),p2g.concat(p2gB)]},
 {id:"qplus-minus",L:118,R:578,T:450,B:754,x0:364,xs:28.7,y0:636,ys:97.2,yt:yTicks3,dec:1,sup:"(−)",sub:"+,diff",lx:38,data:[p3o.concat(p3oB),p3r.concat(p3rB),p3b.concat(p3bB),p3g.concat(p3gB)]},
 {id:"qplus-plus",L:686,R:1165,T:450,B:753,x0:942,xs:29.9,y0:646,ys:58,yt:yTicks4,dec:0,sup:"(+)",sub:"+,diff",lx:625,data:[p4o.concat(p4oB),p4r.concat(p4rB),p4b.concat(p4bB),p4g.concat(p4gB)]},
 {id:"qx-minus",L:118,R:578,T:843,B:1147,x0:364,xs:28.7,y0:1009,ys:109.3,yt:yTicks5,dec:1,sup:"(−)",sub:"×,diff",lx:38,data:[p5o.concat(p5oB),p5r.concat(p5rB),p5b.concat(p5bB),p5g.concat(p5gB)]},
 {id:"qx-plus",L:686,R:1168,T:843,B:1147,x0:942,xs:30,y0:1021,ys:64.7,yt:yTicks6,dec:0,sup:"(+)",sub:"×,diff",lx:625,data:[p6o.concat(p6oB),p6r.concat(p6rB),p6b.concat(p6bB),p6g.concat(p6gB)]},
 {id:"qs-minus",L:118,R:578,T:1233,B:1538,x0:364,xs:28.7,y0:1327,ys:410,yt:yTicks7,dec:1,sup:"(−)",sub:"s,diff",lx:38,data:[p7o.concat(p7oB),p7r.concat(p7rB),p7b.concat(p7bB),p7g.concat(p7gB)]},
 {id:"qs-plus",L:705,R:1165,T:1233,B:1538,x0:951.5,xs:28.5,y0:1368,ys:132,yt:yTicks8,dec:1,sup:"(+)",sub:"s,diff",lx:625,data:[p8o.concat(p8oB),p8r.concat(p8rB),p8b.concat(p8bB),p8g.concat(p8gB)]}
];
const colors=["#FFA500","#8B0000","#0000FF","#708090"];
const seriesKeys=["f606w-chip1","f606w-chip2","f814w-chip1","f814w-chip2"];
const NS="http://www.w3.org/2000/svg";
const svg=document.getElementById("fig");
function mk(tag,attrs,parent){const e=document.createElementNS(NS,tag);for(const k in attrs)e.setAttribute(k,attrs[k]);if(parent)parent.appendChild(e);return e;}
function fmt(v,d){const s=Math.abs(v).toFixed(d);return (v<0?"−":"")+s;}

panels.forEach((p,pi)=>{
  const X=v=>p.x0+p.xs*v, Y=v=>p.y0-p.ys*v;
  const g=mk("g",{},svg);
  
  
  const clip=mk("clipPath",{id:"clip"+pi},g);
  mk("rect",{x:p.L,y:p.T,width:p.R-p.L,height:p.B-p.T},clip);
  const pts=mk("g",{"clip-path":"url(#clip"+pi+")"},g);
  
  
  p.data.forEach((arr,si)=>{
    const sg=mk("g",{fill:colors[si],"fill-opacity":"0.5",stroke:colors[si],"stroke-opacity":"0.7","stroke-width":"1.6"},pts);
    
    
    for(let i=0;i<arr.length;i+=2){
      const c=mk("circle",{cx:X(arr[i]).toFixed(1),cy:Y(arr[i+1]).toFixed(1),r:"4.3"},sg);
      
      
    }
  });
  const frame=mk("rect",{x:p.L,y:p.T,width:p.R-p.L,height:p.B-p.T,fill:"none",stroke:"#000","stroke-width":"1.3"},g);
  
  
  const ax=mk("g",{stroke:"#000","stroke-width":"1"},g);
  xTickValues.forEach(v=>{
    const x=X(v);
    mk("line",{x1:x,y1:p.B,x2:x,y2:p.B-5},ax);
    mk("line",{x1:x,y1:p.T,x2:x,y2:p.T+5},ax);
    const t=mk("text",{x:x,y:p.B+25,"font-size":"18","text-anchor":"middle"},g);
    t.textContent=fmt(v,1);
    
    
  });
  p.yt.forEach(v=>{
    const y=Y(v);
    mk("line",{x1:p.L,y1:y,x2:p.L+5,y2:y},ax);
    mk("line",{x1:p.R,y1:y,x2:p.R-5,y2:y},ax);
    const t=mk("text",{x:p.L-9,y:y+6,"font-size":"18","text-anchor":"end"},g);
    t.textContent=fmt(v,p.dec);
    
    
  });
  const xl=mk("text",{x:(p.L+p.R)/2,y:p.B+50,"font-size":"18","text-anchor":"middle"},g);
  xl.innerHTML='<tspan font-style="italic">f</tspan> [μm]';
  
  
  const cy=(p.T+p.B)/2;
  const yl=mk("g",{transform:"translate("+(p.lx+7)+","+cy+") rotate(-90)"},g);
  
  
  const q=mk("text",{x:-62,y:0,"font-size":"19","font-style":"italic"},yl); q.textContent="Q";
  const sp=mk("text",{x:-47,y:-9,"font-size":"12"},yl); sp.textContent=p.sup;
  const sb=mk("text",{x:-47,y:6,"font-size":"12"},yl); sb.textContent=p.sub;
  const u=mk("text",{x:-8,y:0,"font-size":"18"},yl); u.textContent="[10";
  const ue=mk("text",{x:26,y:-8,"font-size":"12"},yl); ue.textContent="−3";
  const ub=mk("text",{x:43,y:0,"font-size":"18"},yl); ub.textContent="]";
});
</script>
</body></html>
